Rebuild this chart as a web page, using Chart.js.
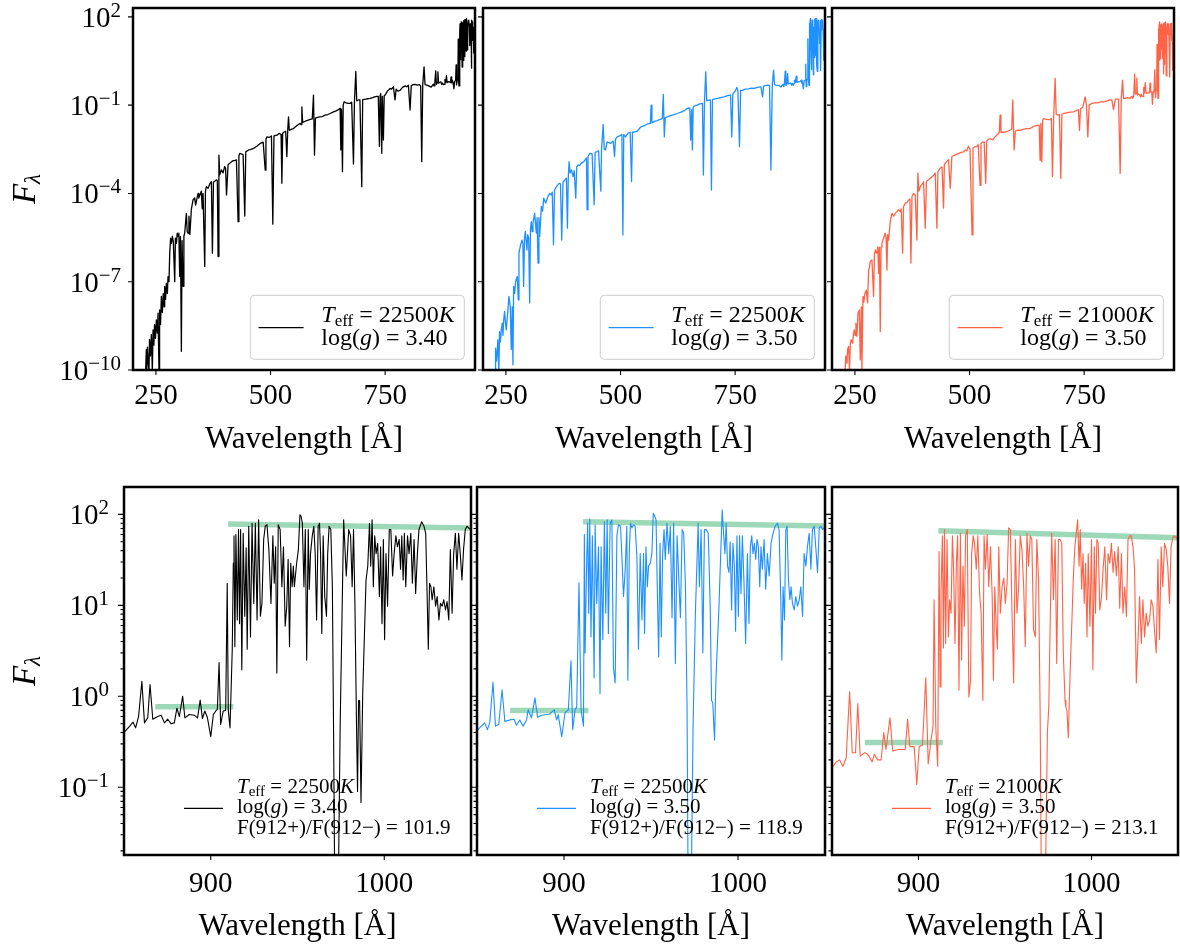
<!DOCTYPE html>
<html>
<head>
<meta charset="utf-8">
<script src="https://cdn.jsdelivr.net/npm/chart.js@4.4.1/dist/chart.umd.min.js"></script>
<style>
  html, body { margin: 0; padding: 0; background: #fff; }
  #wrap { position: relative; width: 1180px; height: 947px; overflow: hidden; }
  #wrap canvas { position: absolute; left: 0; top: 0; }
</style>
</head>
<body>
<div id="wrap">
  <canvas id="t0" width="1180" height="947"></canvas>
  <canvas id="t1" width="1180" height="947"></canvas>
  <canvas id="t2" width="1180" height="947"></canvas>
  <canvas id="b0" width="1180" height="947"></canvas>
  <canvas id="b1" width="1180" height="947"></canvas>
  <canvas id="b2" width="1180" height="947"></canvas>
</div>
<script>
// spectra: [wavelength (A), F_lambda]
const specA = [
  [227,5e-11],[229,4.9e-10],[230,9e-11],[231.5,6e-10],[233,2e-10],[234.9,9e-11],[236,1.1e-9],[238,3e-10],[240,1.6e-9],[242.2,9e-11],
  [243.7,2.3e-9],[245.5,7e-10],[247,3.5e-9],[249,1.2e-9],[251,5e-9],[253,1.8e-9],[254.6,8.5e-9],[256.8,8e-11],[258,1.1e-8],[260,3.5e-9],
  [261.9,3.2e-8],[264,9e-9],[266,4e-8],[268,1.4e-8],[269.1,6.9e-8],[271,2.5e-8],[272.8,8.9e-8],[275,4e-8],[276.4,1.5e-7],[278.5,1e-7],
  [280.1,9.3e-7],[282,3e-6],[283.7,2e-6],[286,3.5e-6],[288,2.2e-6],[291,1e-7],[292.5,3e-6],[294.6,2e-6],[296.5,4.5e-6],[298.3,3.5e-6],
  [300,4.5e-6],[301.9,1.5e-7],[303.5,3.5e-6],[305.5,4.3e-10],[307,2.5e-6],[309.2,7e-8],[311,3.5e-6],[312.8,4.5e-6],[316.4,2.1e-5],[318.3,5e-6],
  [320.1,4.5e-6],[322,1.7e-5],[324,4e-6],[327.4,3e-5],[331,6e-5],[334.6,7e-5],[336.5,4e-5],[338.3,5.5e-5],[341.9,1e-4],[343.5,7e-5],
  [345.6,8.5e-5],[349.2,1.2e-4],[351,3e-5],[352.8,1e-4],[356.5,3.3e-7],[358,1.2e-4],[360.1,1.7e-4],[363.8,1.5e-4],[367.4,2.1e-4],[371,2.5e-4],
  [373.2,9.3e-7],[375.5,2.4e-4],[378.3,2.6e-4],[382,2.9e-4],[384,2.7e-4],[385.6,7.2e-7],[387.4,2e-3],[389.2,4.3e-4],[392.9,6.3e-4],[396.5,5e-4],
  [400.1,8.3e-4],[402,7e-4],[404,8.9e-5],[407.4,9.5e-4],[411,1.07e-3],[415,1.2e-3],[418.3,1.3e-3],[422,1.3e-3],[425.6,1.4e-3],[429.3,1.1e-5],
  [431,1.9e-3],[432.9,2.3e-3],[436,2.2e-3],[440.2,2.1e-3],[443.8,1.7e-5],[446,2.6e-3],[449,2.8e-3],[452,3e-3],[456,3.1e-3],
  [463,3.4e-3],[470,4e-3],[477.5,5e-3],[484,5.5e-3],[488.4,6.2e-4],[490,7e-3],[492,8.3e-3],[497,8e-3],[502,9e-3],[505,9e-6],
  [507.5,9e-3],[513.8,9.5e-3],[519,1.1e-2],[523,1e-2],[524.7,2.2e-4],[526.5,1.1e-2],[528.3,1.2e-2],[533,1.3e-2],[535.6,1.8e-3],[537.5,1.4e-2],
  [539.2,4e-2],[541,1.4e-2],[545,1.5e-2],[550,1.6e-2],[557,2e-2],[564.6,2.4e-2],[566.5,2.2e-2],[568.3,8.7e-2],[570,2.6e-2],[575,2.8e-2],
  [579.2,3e-2],[585,3.2e-2],[591,3.4e-2],[593.7,0.22],[595.9,2e-3],[598,3.6e-2],[601,3.8e-2],[607,4e-2],[613,4.1e-2],[619.1,4.6e-2],
  [625,4.8e-2],[631,5.3e-2],[637.3,5.9e-2],[643,6.4e-2],[648,7e-2],[651.8,7.8e-2],[653.3,3e-3],[655,7e-2],[656.9,5.5e-4],[658.5,0.1],
  [660.5,0.13],[665,0.12],[669,0.115],[673.6,0.115],[677,0.125],[680.9,1e-3],[683,0.13],[686,1.4],[688,0.14],[691.8,0.15],
  [695,0.15],[699,1.7e-4],[701,0.155],[708,0.16],[712,0.165],[717.2,0.17],[723,0.18],[727,0.19],[731.7,0.2],[735,0.2],
  [737.5,3.9e-3],[739,0.22],[740.4,0.25],[742.6,2.3e-3],[744,0.2],[746.2,6.5e-3],[748,0.21],[749.9,0.22],[755,0.3],[760.8,0.37],
  [764,0.35],[768,0.42],[771.6,0.15],[774,0.35],[778,0.3],[782.6,0.32],[788,0.4],[793.5,0.45],[797,0.42],[800.7,0.48],
  [804.4,6.8e-2],[807,0.46],[811,0.5],[815.3,0.51],[820,0.48],[825,0.5],[827.5,0.45],[829.8,1.2e-3],[832,0.5],[834.9,2.0],
  [837,0.5],[840.7,0.48],[845,0.45],
  [850.5,0.41],[853.3,0.47],[855.2,0.52],[856.7,0.45],[858.4,0.6],[860.3,1.46],[861.8,0.51],[863.7,0.58],[865,1.35],[866.6,0.56],
  [869.4,0.6],[871.4,0.62],[873.3,0.51],[875.2,0.56],[877.1,0.5],[879,0.51],[880.5,0.74],[881.9,0.6],[883.8,1.0],[885.1,0.58],
  [887.6,0.63],[890.5,0.62],[892.4,0.58],[893.9,0.91],[895.2,0.57],[896.6,0.69],[898.1,0.58],[900,0.36],[901.5,0.63],[902.9,0.69],
  [903.8,0.72],[904.8,2.35],[905.7,0.49],[907.2,0.69],[908.6,0.7],[909.5,17.5],[910.1,0.7],[911.1,0.45],
  [912.4,3.3],[913.0,29],[913.4,58],[913.9,3.5],[914.5,60],[915.3,6.9],[916.0,68],[916.6,6.3],[917.2,68],[917.9,1.96],
  [918.7,62],[919.6,7.6],[920.4,43],[921.0,3.3],[921.9,74],[922.9,4.5],[923.8,80],[924.8,10.5],[925.7,80],[926.7,6.9],
  [927.6,87],[928.6,7.6],[929.5,10.5],[930.5,53],[931.4,74],[932.4,77],[933.5,41],[934.7,10.5],[935.8,58],[936.6,17.5],
  [937.4,44],[938.1,1.8],[938.9,77],[940.0,68],[941.0,16],[941.9,44],[942.9,5.9],[943.8,9.8],[944.6,32],[945.4,3.5],
  [946.1,29],[946.9,16],[947.6,27],[948.2,16],[949.5,29],[950.5,41],[951.4,99],[952.0,96],[952.8,80],[953.7,16],
  [954.5,68],[955.3,2.5],[956.2,68],[956.8,15],[957.5,37],[958.5,58],[959.4,74],[960.2,37],[961.0,6.9],[961.9,74],
  [962.7,80],[963.3,37],[964.0,4.9],[964.8,58],[965.7,12.5],[966.7,7.6],[967.4,37],[968.2,74],[969.2,68],[970.1,16],
  [970.8,0.4],[971.4,0.01],[973.6,0.01],[974.6,0.5],[976.6,87],[978.1,21],[979.5,68],[980.6,58],[981.5,16],[982.3,68],
  [983.1,10.5],[984.0,0.5],[984.6,0.09],[985.2,0.9],[985.8,0.9],[986.6,0.068],[987.6,1.1],[989.5,19],[990.5,27],[991.5,80],
  [992.2,27],[993.0,87],[993.7,16],[994.5,58],[995.3,37],[996.2,48],[997.2,12.5],[997.9,44],[998.7,6.3],[999.5,53],
  [1000.2,4.2],[1001.0,37],[1001.9,9.8],[1002.9,68],[1003.8,68],[1004.8,21],[1005.7,37],[1006.7,58],[1007.6,44],[1008.6,53],
  [1009.4,25],[1010.1,58],[1010.9,19],[1011.6,62],[1012.4,16],[1013.4,58],[1014.3,37],[1015.3,62],[1016.2,17.5],[1017.2,53],
  [1018.1,13.5],[1019.1,37],[1020.0,68],[1021.6,83],[1022.9,74],[1023.9,62],[1024.6,16],[1025.4,3.3],[1026.1,17.5],[1026.9,16],
  [1027.6,11.5],[1028.6,16],[1029.6,9.8],[1030.5,12.5],[1031.5,6.9],[1032.4,10.5],[1033.4,9.8],[1034.3,11.5],[1035.3,8.9],[1036.2,11],
  [1037.2,6.9],[1038.1,41],[1039.1,8.2],[1040.0,37],[1041.0,62],[1041.9,25],[1042.9,62],[1043.8,37],[1044.8,19],[1045.7,41],
  [1046.7,68],[1047.7,74],[1048.6,71],[1049.7,68],[1051,70]
];
const specB = [
  [227,5e-11],[227.4,5.5e-10],[229.5,2e-10],[232.5,1.07e-9],[234.5,8e-11],[236.1,2e-9],[238,9e-10],[239.8,2.3e-9],[242,3.9e-9],[243.5,1.5e-9],
  [244.9,4.5e-9],[247.1,9.8e-9],[249,4e-9],[250.7,2.3e-9],[254.4,1.1e-8],[256.6,3.2e-8],[259.5,1.4e-8],[261.7,4.9e-10],[263.8,1.4e-8],[265.3,1.5e-10],
  [266.8,6.9e-8],[269,4e-8],[271.1,1e-7],[274.8,1.5e-7],[277,2.4e-8],[278.4,9.3e-7],[281.3,1.6e-6],[285,2.6e-6],[287,2e-6],[288.6,6.9e-8],
  [290.5,3e-6],[292.3,5.1e-6],[295.9,1.2e-6],[297.5,4e-6],[299.6,3e-6],[301.8,1.9e-8],[303.5,6e-6],[305.4,1.1e-5],[307,5e-6],[309,9.8e-6],
  [312.7,2.1e-5],[316.3,4.5e-6],[318,1.5e-5],[320,4.3e-7],[322,1.5e-5],[323.6,3.5e-6],[327.3,3.6e-5],[330,2.5e-5],[332.4,6.9e-5],[336.7,4.7e-5],
  [339,6e-5],[341.8,7.9e-5],[345.5,1e-4],[349.1,8.9e-5],[351,1.1e-4],[353.8,1.8e-6],[356,1.3e-4],[360.1,1.7e-4],[365.9,2.2e-4],[369,2.1e-4],
  [371.7,2.6e-6],[374.6,2.5e-4],[378,2.8e-4],[381.9,3.3e-4],[384.1,6.6e-6],[386,3.5e-4],[387.8,1.2e-3],[390,5e-4],[392.9,6.3e-4],[396.5,3.7e-4],
  [399,6e-4],[402.3,6.9e-5],[404.5,8e-4],[407.4,9.3e-4],[411,9e-4],[414.7,1.07e-3],[420,1.2e-3],[425.7,1.6e-3],[427.1,2.8e-5],[429,1.8e-3],
  [433,2.3e-3],[438,2.2e-3],[442.4,4.1e-5],[444.5,2.4e-3],[447.5,2.6e-3],[452,2.8e-3],[457,1.2e-4],[458.5,3e-3],[462.1,2.2e-2],[464.5,3.2e-3],
  [467.2,3e-3],[470.8,5.6e-3],[478.1,5e-3],[484,6e-3],[486.9,1.8e-3],[489,7e-3],[492.7,8.3e-3],[498,9e-3],[503,1e-2],[505.1,3.9e-6],
  [507,1e-2],[510.9,8.3e-3],[516,1.1e-2],[521,1.2e-2],[524,2.5e-4],[526,1.2e-2],[529.2,1.2e-2],[536.4,1.3e-2],[543.7,1.8e-2],[552,2e-2],
  [559,2.3e-2],[565,2.4e-2],[566.8,0.1],[568.5,2.5e-2],[574,2.8e-2],[580.2,3e-2],[586,3.3e-2],[591,3.5e-2],[593.3,0.23],[595.5,8.3e-3],
  [597.5,3.8e-2],[602,4e-2],[610,4.5e-2],[617,4.8e-2],[623.9,5.2e-2],[632,5.8e-2],[639,6.5e-2],[645.8,7.8e-2],[651,8e-2],[653.1,6.5e-3],
  [655,7e-2],[656.7,3e-3],[658.5,8.5e-2],[660.3,9.3e-2],[667,0.1],[673,0.11],[678.6,0.115],[680.8,4.2e-4],[683,0.12],[685.9,1.35],
  [688,0.14],[691,0.148],[696,0.15],[698.3,1.3e-4],[700.5,0.155],[704.1,0.16],[712,0.17],[718,0.18],[725.9,0.19],[733,0.21],
  [740,0.22],[742.7,8.3e-3],[745,0.25],[747.8,0.27],[751,0.32],[753.6,0.4],[756,0.3],[759.5,3.9e-3],[762,0.32],[766,0.32],
  [772,0.35],[779,0.36],[785,0.38],[791.5,0.37],[798,0.4],[806.1,0.42],[809.8,0.19],[812,0.44],[820.7,0.48],[825,0.47],
  [828,6.2e-4],[831,0.47],[833.8,1.55],[836,0.5],[838.9,0.48],[845,0.47],
  [849.6,0.41],[851.5,0.45],[854.4,0.51],[856,0.43],[857.3,0.51],[859.2,1.43],[860.6,0.47],[862.5,0.49],[864.4,1.18],[866,0.53],
  [868.8,0.55],[871.3,0.56],[872.7,0.48],[874.6,0.55],[876.5,0.47],[878.5,0.55],[879.4,0.71],[881.3,0.58],[883.3,0.96],[884.8,0.59],
  [887.1,0.62],[890,0.63],[891.9,0.64],[894.4,0.71],[895.8,0.55],[896.7,0.63],[898.7,0.36],[900.6,0.66],[902.5,0.71],[904,2.45],
  [905,0.43],[906.3,0.71],[907.3,0.76],[908.6,17.7],[909.8,0.71],[911.2,0.47],
  [911.7,60],[912.1,3.0],[913.0,29],[913.6,80],[914.2,8.2],[914.8,89],[915.5,4.5],[916.3,58],[917.3,1.6],[917.9,77],
  [918.8,10.5],[919.8,44],[920.7,1.07],[921.3,44],[922.3,4.2],[923.2,83],[924.0,8.2],[924.8,87],[925.5,4.9],[926.5,80],
  [927.5,87],[928.4,2.1],[929.4,1.4],[930.4,58],[931.3,77],[932.5,74],[933.2,37],[934.2,12.5],[935.2,25],[936.1,74],
  [936.7,1.5],[937.5,37],[938.2,80],[939.0,71],[940.0,77],[940.9,74],[941.9,34],[942.8,3.3],[943.8,37],[944.8,6.9],
  [945.7,37],[946.3,4.9],[947.1,44],[947.9,16],[948.6,27],[949.6,29],[950.5,37],[951.3,103],[952.1,96],[952.9,87],
  [953.6,16],[954.4,2.7],[955.2,48],[955.9,4.5],[956.7,37],[957.5,68],[958.2,32],[959.2,80],[960.2,37],[961.1,74],
  [962.1,7.3],[963.0,80],[964.0,2.3],[965.0,58],[965.9,21],[966.9,7.3],[967.9,68],[968.8,62],[969.8,16],[970.7,0.8],
  [971.3,0.01],[973.2,0.01],[974.2,0.5],[975.5,8],[977.1,80],[977.8,16],[978.8,68],[979.8,3.0],[980.7,68],[981.7,68],
  [982.9,62],[984.0,10],[984.8,0.9],[985.5,0.85],[986.5,0.33],[987.3,1.5],[989.0,9],[990.9,112],[991.7,62],[992.5,37],
  [993.2,80],[994.0,27],[994.8,23],[995.5,50],[996.3,8.9],[997.1,48],[997.9,27],[998.6,5.2],[999.4,58],[1000.2,7.6],
  [1000.9,58],[1001.7,13.5],[1002.5,58],[1003.4,19],[1004.4,3.8],[1005.4,37],[1006.3,6.3],[1007.1,44],[1007.9,58],[1008.6,37],
  [1009.4,48],[1010.2,32],[1010.9,53],[1011.7,44],[1012.5,16],[1013.2,44],[1014.0,25],[1015.0,53],[1015.9,15],[1016.9,37],
  [1017.9,21],[1019.0,48],[1019.8,58],[1021.3,74],[1022.7,80],[1023.6,68],[1024.6,11.5],[1025.2,2.5],[1025.9,16],[1026.7,6.9],
  [1027.5,68],[1028.2,74],[1029.0,19],[1029.8,11.5],[1030.5,16],[1031.3,10.5],[1032.3,8.9],[1033.2,12.5],[1034.2,9.8],[1035.2,11.5],
  [1036.1,16],[1037.1,7.6],[1038.0,37],[1039.0,27],[1039.9,44],[1040.9,62],[1041.9,25],[1042.8,68],[1043.8,74],[1044.8,41],
  [1045.7,23],[1046.7,71],[1047.6,74],[1048.6,68],[1049.6,71],[1051,72]
];
const specC = [
  [228,5e-11],[230,3e-10],[232.6,1.7e-10],[234,5e-10],[236.2,6.3e-10],[238.2,9e-11],[240,8e-10],[242,1.07e-9],[245,8.1e-10],[247,1.8e-9],
  [248.6,2.3e-9],[250.5,1.5e-9],[252.2,3.9e-9],[254.4,1.4e-9],[256.6,8.5e-9],[259.5,1.1e-8],[261.7,2.2e-10],[263.9,1.4e-8],[265.3,9e-11],[267.5,3.2e-8],
  [269.5,2e-8],[271.1,3.6e-8],[274.8,5.2e-8],[277.7,1.9e-8],[279.8,2.5e-7],[281.5,3e-7],[283.5,4.9e-7],[287.1,5.5e-7],[290.7,3.2e-8],[292.5,8e-7],
  [294.4,1.2e-6],[298,9.3e-7],[300,1.5e-6],[301.6,1.9e-7],[303.5,1.5e-6],[305.3,2e-9],[307,1.5e-6],[308.9,2e-6],[312.5,3e-6],[316.2,4.5e-6],
  [318,3e-6],[319.8,2.5e-7],[321.5,4e-6],[323.4,2.6e-6],[327.1,1.1e-5],[330.7,2.1e-5],[334.3,1.7e-5],[338,2.1e-5],[341.5,2.4e-5],[345.2,2.8e-5],
  [348.9,2.4e-5],[351,3e-5],[354,9.3e-7],[356,3.5e-5],[359.8,4.7e-5],[363.5,5e-5],[367.1,6e-5],[370,6.5e-5],[372.1,4.3e-7],[374.5,8e-5],
  [377.9,1e-4],[381.6,8.9e-5],[385.2,2.6e-6],[387.4,4.9e-4],[389.5,1.2e-4],[392.5,1.7e-4],[396,2e-4],[399.8,2.5e-4],[403.4,6.6e-6],[406,2.6e-4],
  [410.7,2.9e-4],[414,3.2e-4],[417.9,3.7e-4],[421,4e-4],[425.2,4.9e-4],[428.8,6.6e-6],[431,5.5e-4],[436.1,7.2e-4],[440,8e-4],[443.3,3.2e-5],
  [445,9.5e-4],[447,1.07e-3],[450,1.2e-3],[454.2,1.4e-3],[457.9,1.5e-4],[461.5,1.8e-3],[468,2e-3],[476,2.3e-3],[482,2.5e-3],[486.5,2.6e-3],
  [491,3e-3],[494,2.8e-3],[497.5,4e-3],[501,3.2e-3],[505.5,3.9e-6],[507.5,3.5e-3],[511,3.8e-3],[515.6,3.9e-3],[519,4.5e-3],[522.9,1.9e-4],
  [525,5e-3],[528.7,5.6e-3],[532,5.5e-3],[535.3,2.2e-4],[537.5,6e-3],[541.1,7e-3],[546,7.2e-3],[550.6,6.6e-3],[556,8.5e-3],[561,1e-2],
  [565,1.2e-2],[566.6,4.6e-2],[568.5,1.2e-2],[574,1.2e-2],[581.2,1.25e-2],[588,1.4e-2],[592,1.5e-2],[594.3,0.15],[597.2,3e-3],[600,1.3e-2],
  [605,1.4e-2],[610.3,1.4e-2],[617,1.5e-2],[624,1.6e-2],[632.1,1.6e-2],[640,1.9e-2],[645,2e-2],[650.3,2.1e-2],[652,2e-2],[653.9,1.35e-3],
  [655.5,2.4e-2],[657.6,1.2e-3],[659.3,3e-2],[661.2,3.5e-2],[668,3.3e-2],[675.8,3.2e-2],[678.5,3.5e-2],[680.9,3.7e-4],[683.5,4e-2],[686.7,0.81],
  [689,5e-2],[691.8,4.6e-2],[696,4.8e-2],[699.1,3.2e-4],[701.5,5e-2],[704.9,5.2e-2],[712,5.5e-2],[719,5.8e-2],[726.7,5.9e-2],[733,6.5e-2],
  [737.5,7e-2],[739.8,1.4e-2],[742,7.5e-2],[747,8.5e-2],[752.2,0.19],[755,0.1],[758,8.3e-3],[761,0.1],[766.7,0.115],[773,0.12],
  [780,0.12],[786,0.13],[792.2,0.13],[800,0.14],[806,0.15],[810.4,0.15],[814,7e-2],[818,0.16],[825,0.16],[828.6,4.8e-4],
  [831,0.17],[833.7,0.71],[836,0.17],[839.5,0.17],[845,0.18],
  [850.6,0.17],[852.5,0.19],[854.4,0.2],[856.3,0.17],[858.2,0.21],[860.2,1.13],[861.7,0.24],[863.6,0.24],[864.9,0.83],[866.3,0.22],
  [868.8,0.24],[870.7,0.23],[873.2,0.19],[874.5,0.23],[876.4,0.2],[878.4,0.2],[879.9,0.4],[881.2,0.26],[883.5,0.58],[885.1,0.25],
  [888,0.26],[890.8,0.26],[892.3,0.26],[893.7,0.56],[895,0.28],[897.5,0.28],[899,0.107],[900.4,0.28],[902.3,0.29],[904.2,1.6],
  [905.6,0.18],[907.1,0.32],[908.4,0.47],[909,11.5],[910,0.45],[911.1,0.17],
  [911.9,39],[912.5,1.27],[913.0,13.5],[913.8,58],[914.4,3.4],[915.0,68],[915.7,3.8],[916.5,53],[917.3,4.5],[918.0,11.5],
  [918.8,8.2],[919.6,58],[920.3,25],[921.1,3.8],[921.9,29],[922.6,58],[923.4,1.17],[924.2,62],[924.9,2.5],[925.7,27],
  [926.5,5.9],[927.2,58],[928.2,68],[929.1,0.98],[930.1,1.5],[930.7,37],[931.6,58],[932.4,48],[933.4,25],[934.3,58],
  [935.3,13.5],[936.2,8.2],[937.2,0.9],[937.9,58],[938.7,25],[939.7,60],[940.6,16],[941.6,44],[942.6,12.5],[943.3,1.5],
  [944.1,16],[944.9,5.9],[945.6,3.3],[946.4,44],[947.3,8.2],[948.3,16],[949.3,20],[950.2,10.5],[951.2,17.5],[952.1,71],
  [953.1,68],[954.0,9.3],[955.0,1.4],[956.0,53],[956.9,8.2],[957.9,16],[958.8,58],[959.8,41],[960.8,16],[961.7,3.5],
  [962.7,62],[963.6,27],[964.6,58],[965.5,53],[966.5,5.4],[967.5,4.5],[968.4,53],[969.4,19],[970.3,0.7],[971.0,0.01],
  [973.4,0.01],[974.5,0.4],[975.3,0.76],[977.0,62],[978.0,11.5],[979.0,53],[979.9,2.3],[980.9,53],[981.8,53],[982.8,48],
  [983.7,3.0],[984.7,0.9],[985.2,0.75],[985.8,0.7],[986.6,0.35],[987.5,1.5],[989.5,20],[990.4,44],[992.0,87],[992.8,27],
  [993.5,68],[994.3,15],[995.1,37],[995.8,10.5],[996.6,29],[997.4,4.5],[998.1,37],[999.1,5.9],[1000.0,53],[1000.8,1.96],
  [1001.6,44],[1002.3,8.2],[1003.1,53],[1003.9,48],[1004.8,8.9],[1005.8,12.5],[1006.7,25],[1007.7,44],[1008.7,11.5],[1009.6,37],
  [1010.6,29],[1011.5,48],[1012.5,23],[1013.4,39],[1014.4,21],[1015.4,44],[1016.3,9.3],[1017.3,37],[1018.2,8.2],[1019.2,16],
  [1020.2,7.6],[1021.1,53],[1022.1,58],[1023.0,58],[1024.0,44],[1024.9,25],[1025.9,1.4],[1026.9,4.2],[1027.8,12.5],[1028.8,3.8],
  [1029.7,11.5],[1030.7,4.5],[1031.6,8.2],[1032.6,5.9],[1033.6,6.9],[1034.5,11.5],[1035.5,9.8],[1036.4,5.4],[1037.4,3.0],[1038.4,32],
  [1039.3,4.2],[1040.3,44],[1041.2,16],[1042.2,48],[1043.2,41],[1044.1,27],[1045.1,10.5],[1046.0,44],[1047.0,55],[1047.9,58],
  [1049,55],[1051,58]
];

// continuum levels either side of 912 A (green bars)
const lowA = [[868, 0.77], [913, 0.77]];
const highA = [[910, 78.5], [1050, 71]];
const lowB = [[869, 0.70], [914, 0.70]];
const highB = [[911, 83.2], [1050, 74.5]];
const lowC = [[869, 0.31], [914, 0.31]];
const highC = [[911.5, 66.1], [1050, 55.5]];

// legend text
const teffLabels = ['22500', '22500', '21000'];
const loggLabels = ['3.40', '3.50', '3.50'];
const ratioLabels = ['101.9', '118.9', '213.1'];
const lineColors = ['#000000', '#1e90ff', '#ff6347'];

// axes
const topXTicks = [250, 500, 750];
const botXTicks = [900, 1000];
const topYTicks = [1e-10, 1e-7, 1e-4, 1e-1, 1e2];
const topYExp = ['\u221210', '\u22127', '\u22124', '\u22121', '2'];
const botYTicks = [1e-1, 1, 10, 100];
const botYExp = ['\u22121', '0', '1', '2'];
const botYMinor = [];
[0.01, 0.1, 1, 10].forEach(d => { for (let k = 2; k <= 9; k++) botYMinor.push(k * d); });

const SERIF = '"Liberation Serif", "DejaVu Serif", serif';
const GREEN = 'rgba(60, 179, 113, 0.5)';

function drawRich(ctx, x, y, parts, align) {
    const fontOf = p => (p[2] ? 'italic ' : '') + p[1] + 'px ' + SERIF;
    let w = 0;
    parts.forEach(p => { ctx.font = fontOf(p); w += ctx.measureText(p[0]).width; });
    let cx = align === 'right' ? x - w : (align === 'center' ? x - w / 2 : x);
    ctx.textAlign = 'left';
    ctx.textBaseline = 'alphabetic';
    parts.forEach(p => {
        ctx.font = fontOf(p);
        ctx.fillText(p[0], cx, y + (p[3] || 0));
        cx += ctx.measureText(p[0]).width;
    });
}

// ticks, frame, y labels, y title and legend
const panelDecor = {
    id: 'panelDecor',
    afterDatasetsDraw(chart, args, o) {
        const ctx = chart.ctx, a = chart.chartArea;
        const xs = chart.scales.x, ys = chart.scales.y;
        ctx.save();
        ctx.strokeStyle = '#000';
        ctx.fillStyle = '#000';
        ctx.lineWidth = 1.1;
        ctx.beginPath();
        o.yMajor.forEach(v => {
            const p = ys.getPixelForValue(v);
            ctx.moveTo(a.left - o.majorLen, p); ctx.lineTo(a.left, p);
        });
        o.yMinor.forEach(v => {
            const p = ys.getPixelForValue(v);
            ctx.moveTo(a.left - o.minorLen, p); ctx.lineTo(a.left, p);
        });
        o.xTicks.forEach(v => {
            const p = xs.getPixelForValue(v);
            ctx.moveTo(p, a.bottom); ctx.lineTo(p, a.bottom + 5);
        });
        ctx.stroke();

        ctx.lineWidth = 2.5;
        ctx.strokeRect(a.left, a.top, a.right - a.left, a.bottom - a.top);

        if (o.yLabels) {
            o.yMajor.forEach((v, i) => {
                const p = ys.getPixelForValue(v);
                drawRich(ctx, a.left - o.labelGap, p + 10, [['10', 29, false, 0], [o.yExp[i], 21, false, -10]], 'right');
            });
            ctx.save();
            ctx.translate(25, (a.top + a.bottom) / 2);
            ctx.rotate(-Math.PI / 2);
            drawRich(ctx, 0, 10, [['F', 33, true, 0], ['\u03bb', 23, true, 5]], 'center');
            ctx.restore();
        }

        const i = o.model;
        if (o.row === 0) {
            const bw = 214, bh = 64;
            const bx = a.right - 10.7 - bw, by = a.bottom - 10.7 - bh, r = 4;
            ctx.beginPath();
            ctx.moveTo(bx + r, by);
            ctx.arcTo(bx + bw, by, bx + bw, by + bh, r);
            ctx.arcTo(bx + bw, by + bh, bx, by + bh, r);
            ctx.arcTo(bx, by + bh, bx, by, r);
            ctx.arcTo(bx, by, bx + bw, by, r);
            ctx.closePath();
            ctx.fillStyle = 'rgba(255,255,255,0.8)';
            ctx.fill();
            ctx.lineWidth = 1;
            ctx.strokeStyle = '#cccccc';
            ctx.stroke();
            ctx.strokeStyle = lineColors[i];
            ctx.lineWidth = 1.3;
            ctx.beginPath();
            ctx.moveTo(bx + 8.3, by + 32.4); ctx.lineTo(bx + 53.3, by + 32.4);
            ctx.stroke();
            ctx.fillStyle = '#000';
            const tx = bx + 71;
            drawRich(ctx, tx, by + 26.4, [['T', 24, true], ['eff', 17, false, 4], [' = ' + teffLabels[i], 24, false], ['K', 24, true]]);
            drawRich(ctx, tx, by + 49.7, [['log(', 24, false], ['g', 24, true], [') = ' + loggLabels[i], 24, false]]);
        } else {
            ctx.strokeStyle = lineColors[i];
            ctx.lineWidth = 1.3;
            ctx.beginPath();
            ctx.moveTo(a.left + 60, a.bottom - 46.7); ctx.lineTo(a.left + 99, a.bottom - 46.7);
            ctx.stroke();
            ctx.fillStyle = '#000';
            const tx = a.left + 113;
            drawRich(ctx, tx, a.bottom - 62.3, [['T', 21, true], ['eff', 15, false, 3], [' = ' + teffLabels[i], 21, false], ['K', 21, true]]);
            drawRich(ctx, tx, a.bottom - 42.3, [['log(', 21, false], ['g', 21, true], [') = ' + loggLabels[i], 21, false]]);
            drawRich(ctx, tx, a.bottom - 21, [['F(912+)/F(912\u2212) = ' + ratioLabels[i], 21, false]]);
        }
        ctx.restore();
    }
};

const topGeom = [{l: 133, r: 475}, {l: 483, r: 825}, {l: 832, r: 1174}];
const botGeom = [{l: 124, r: 471}, {l: 477, r: 825}, {l: 832, r: 1178}];
const specs = [specA, specB, specC];
const lows = [lowA, lowB, lowC];
const highs = [highA, highB, highC];

function toXY(arr) {
    return arr.map(p => ({x: p[0], y: p[1]}));
}

function buildPanel(row, col) {
    const isTop = row === 0;
    const g = isTop ? topGeom[col] : botGeom[col];
    const t = isTop ? 8 : 487, b = isTop ? 370 : 855;
    const H = 90;
    const datasets = [{
        data: toXY(specs[col]),
        borderColor: lineColors[col],
        borderWidth: isTop ? 1.3 : 1.1,
        borderJoinStyle: 'round',
        pointRadius: 0,
        tension: 0,
        fill: false
    }];
    if (!isTop) {
        [lows[col], highs[col]].forEach(seg => {
            datasets.push({
                data: toXY(seg),
                borderColor: GREEN,
                borderWidth: 5.5,
                borderCapStyle: 'butt',
                pointRadius: 0,
                fill: false
            });
        });
    }
    const xTicks = isTop ? topXTicks : botXTicks;
    new Chart(document.getElementById((isTop ? 't' : 'b') + col), {
        type: 'line',
        data: { datasets: datasets },
        options: {
            responsive: false,
            animation: false,
            devicePixelRatio: 1,
            events: [],
            layout: { padding: { left: g.l - 1, right: 1180 - g.r, top: t, bottom: 947 - b - H } },
            plugins: {
                legend: { display: false },
                tooltip: { enabled: false },
                panelDecor: {
                    row: row,
                    model: col,
                    yLabels: col === 0,
                    yMajor: isTop ? topYTicks : botYTicks,
                    yExp: isTop ? topYExp : botYExp,
                    yMinor: isTop ? [] : botYMinor,
                    xTicks: xTicks,
                    majorLen: isTop ? 5 : 6,
                    minorLen: 3.5,
                    labelGap: isTop ? 12 : 15
                }
            },
            scales: {
                x: {
                    type: 'linear',
                    min: isTop ? 200 : 850,
                    max: isTop ? 946 : 1050,
                    afterBuildTicks: s => { s.ticks = xTicks.map(v => ({value: v})); },
                    afterFit: s => { s.height = H; },
                    grid: { display: false, drawTicks: false },
                    border: { display: false },
                    ticks: {
                        font: { family: SERIF, size: 29 },
                        color: '#000',
                        padding: isTop ? 9 : 12,
                        maxRotation: 0,
                        autoSkip: false,
                        callback: v => String(v)
                    },
                    title: {
                        display: true,
                        text: 'Wavelength [\u00c5]',
                        font: { family: SERIF, size: 31 },
                        color: '#000',
                        padding: { top: 0, bottom: isTop ? 2 : 0 }
                    }
                },
                y: {
                    type: 'logarithmic',
                    min: isTop ? 1e-10 : 0.018,
                    max: 200,
                    afterFit: s => { s.width = 1; },
                    grid: { display: false, drawTicks: false },
                    border: { display: false },
                    ticks: { display: false }
                }
            }
        },
        plugins: [panelDecor]
    });
}

document.addEventListener('DOMContentLoaded', function() {
    for (let row = 0; row < 2; row++) {
        for (let col = 0; col < 3; col++) buildPanel(row, col);
    }
});
</script>
</body>
</html>
